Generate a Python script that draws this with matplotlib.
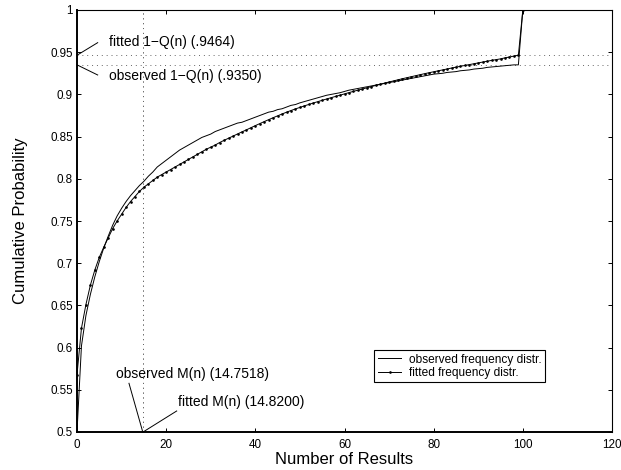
import matplotlib
matplotlib.use("Agg")
import matplotlib.pyplot as plt
from matplotlib.ticker import FormatStrFormatter

plt.rcParams['font.family'] = ['Liberation Sans', 'DejaVu Sans']

# cumulative probability, n = 0 .. 100 (all mass at n >= 100 lumped at the end)
fitted = [
    0.568, 0.623, 0.651, 0.674, 0.692, 0.707, 0.719, 0.730, 0.741, 0.750,
    0.758, 0.766, 0.773, 0.779, 0.785, 0.790, 0.794, 0.798, 0.802, 0.805,
    0.808, 0.811, 0.814, 0.817, 0.820, 0.823, 0.826, 0.829, 0.832, 0.835,
    0.8375, 0.840, 0.843, 0.8456, 0.8481, 0.8506, 0.8531, 0.8556, 0.8580, 0.8605,
    0.8630, 0.8654, 0.8678, 0.8701, 0.8724, 0.8746, 0.8768, 0.8789, 0.8809, 0.8828,
    0.8846, 0.8864, 0.8881, 0.8898, 0.8914, 0.8930, 0.8946, 0.8961, 0.8976, 0.8991,
    0.9006, 0.9021, 0.9036, 0.9050, 0.9064, 0.9078, 0.9092, 0.9106, 0.9120, 0.9134,
    0.9147, 0.9160, 0.9173, 0.9186, 0.9198, 0.9210, 0.9222, 0.9234, 0.9246, 0.9257,
    0.9268, 0.9279, 0.9290, 0.9301, 0.9312, 0.9323, 0.9333, 0.9343, 0.9353, 0.9363,
    0.9373, 0.9383, 0.9393, 0.9403, 0.9412, 0.9421, 0.9433, 0.9443, 0.9454, 0.9464,
    1.0,
]
observed = [
    0.500, 0.602, 0.638, 0.663, 0.684, 0.702, 0.718, 0.732, 0.745, 0.756,
    0.765, 0.773, 0.780, 0.786, 0.792, 0.797, 0.803, 0.808, 0.814, 0.818,
    0.822, 0.826, 0.830, 0.834, 0.837, 0.840, 0.843, 0.846, 0.849, 0.851,
    0.853, 0.856, 0.858, 0.860, 0.862, 0.864, 0.866, 0.867, 0.869, 0.871,
    0.873, 0.875, 0.877, 0.879, 0.880, 0.882, 0.883, 0.885, 0.887, 0.888,
    0.890, 0.8915, 0.893, 0.8945, 0.896, 0.8975, 0.899, 0.900, 0.901, 0.902,
    0.9035, 0.905, 0.906, 0.907, 0.908, 0.909, 0.910, 0.911, 0.912, 0.913,
    0.914, 0.915, 0.916, 0.917, 0.918, 0.919, 0.920, 0.921, 0.922, 0.923,
    0.924, 0.9245, 0.925, 0.926, 0.9265, 0.927, 0.928, 0.9285, 0.929, 0.930,
    0.9305, 0.931, 0.932, 0.9325, 0.933, 0.9335, 0.934, 0.9345, 0.935, 0.935,
    1.0,
]
n = list(range(len(fitted)))

obs_q, fit_q = 0.9350, 0.9464
obs_m, fit_m = 14.7518, 14.8200

fig = plt.figure(figsize=(6.21, 4.70), dpi=100)
ax = fig.add_axes([77 / 621, 38 / 470, 535 / 621, 422 / 470])

# reference lines
dot = dict(color='0.4', lw=0.7, ls=(0, (1, 4)))
ax.axhline(fit_q, **dot)
ax.axhline(obs_q, **dot)
ax.axvline(obs_m, **dot)
ax.axvline(fit_m, **dot)

ax.plot(n, observed, color='black', lw=0.7, label='observed frequency distr.')
ax.plot(n, fitted, color='black', lw=0.7, marker='.', markersize=1.8,
        label='fitted frequency distr.')

ax.set_xlim(0, 120)
ax.set_ylim(0.5, 1)
ax.set_xticks(range(0, 121, 20))
ax.set_yticks([0.5 + 0.05 * i for i in range(11)])
ax.yaxis.set_major_formatter(FormatStrFormatter('%g'))
ax.tick_params(direction='in', length=3.2, width=0.7, labelsize=8.4,
               top=True, right=True)
ax.tick_params(axis='x', pad=5)
ax.tick_params(axis='y', pad=3)
for s in ['left', 'bottom']:
    ax.spines[s].set_linewidth(1.4)
for s in ['top', 'right']:
    ax.spines[s].set_linewidth(0.8)

ax.set_xlabel('Number of Results', fontsize=12, labelpad=1)
ax.set_ylabel('Cumulative Probability', fontsize=12, labelpad=16)

# annotations
txt = dict(fontsize=10, va='center', ha='left')
ln = dict(color='black', lw=0.7, clip_on=False)
ax.plot([0, 4.64], [fit_q, 0.9613], **ln)
ax.text(7.2, 0.9615, 'fitted 1\u2212Q(n) (.9464)', **txt)
ax.plot([0, 4.64], [obs_q, 0.923], **ln)
ax.text(7.2, 0.9218, 'observed 1\u2212Q(n) (.9350)', **txt)
ax.plot([obs_m, 11.66], [0.5, 0.5577], **ln)
ax.text(8.75, 0.5687, 'observed M(n) (14.7518)', **txt)
ax.plot([fit_m, 22.36], [0.5, 0.5249], **ln)
ax.text(22.7, 0.5359, 'fitted M(n) (14.8200)', **txt)

leg = ax.legend(loc='upper left', bbox_to_anchor=(374 / 621, 1 - 350 / 470),
                bbox_transform=fig.transFigure, fontsize=8.6, frameon=True,
                fancybox=False, edgecolor='black', framealpha=1,
                handlelength=2.0, handletextpad=0.6, borderpad=0.3,
                labelspacing=0.1, borderaxespad=0)
leg.get_frame().set_linewidth(0.8)

fig.savefig('out.png', dpi=100)
